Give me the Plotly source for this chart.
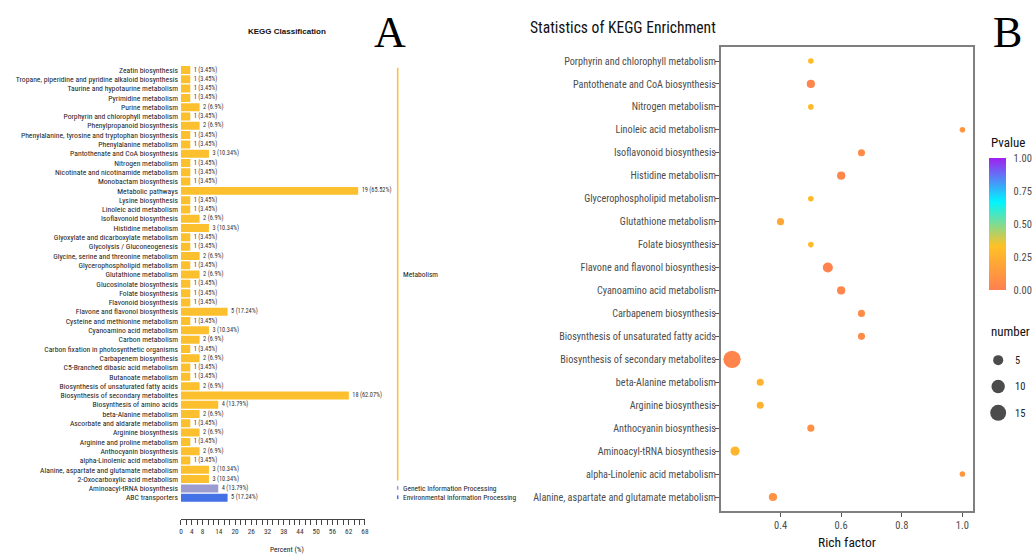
import math
import plotly.graph_objects as go

W, H = 1034, 554
NARROW = "Liberation Sans Narrow, Arial Narrow, Roboto Condensed, Liberation Sans, sans-serif"
SANS = "Liberation Sans, Arial, sans-serif"
SERIF = "Liberation Serif, Times New Roman, serif"

# ---------------- Panel A data (top to bottom) ----------------
kegg_terms = [
    "Zeatin biosynthesis",
    "Tropane, piperidine and pyridine alkaloid biosynthesis",
    "Taurine and hypotaurine metabolism",
    "Pyrimidine metabolism",
    "Purine metabolism",
    "Porphyrin and chlorophyll metabolism",
    "Phenylpropanoid biosynthesis",
    "Phenylalanine, tyrosine and tryptophan biosynthesis",
    "Phenylalanine metabolism",
    "Pantothenate and CoA biosynthesis",
    "Nitrogen metabolism",
    "Nicotinate and nicotinamide metabolism",
    "Monobactam biosynthesis",
    "Metabolic pathways",
    "Lysine biosynthesis",
    "Linoleic acid metabolism",
    "Isoflavonoid biosynthesis",
    "Histidine metabolism",
    "Glyoxylate and dicarboxylate metabolism",
    "Glycolysis / Gluconeogenesis",
    "Glycine, serine and threonine metabolism",
    "Glycerophospholipid metabolism",
    "Glutathione metabolism",
    "Glucosinolate biosynthesis",
    "Folate biosynthesis",
    "Flavonoid biosynthesis",
    "Flavone and flavonol biosynthesis",
    "Cysteine and methionine metabolism",
    "Cyanoamino acid metabolism",
    "Carbon metabolism",
    "Carbon fixation in photosynthetic organisms",
    "Carbapenem biosynthesis",
    "C5-Branched dibasic acid metabolism",
    "Butanoate metabolism",
    "Biosynthesis of unsaturated fatty acids",
    "Biosynthesis of secondary metabolites",
    "Biosynthesis of amino acids",
    "beta-Alanine metabolism",
    "Ascorbate and aldarate metabolism",
    "Arginine biosynthesis",
    "Arginine and proline metabolism",
    "Anthocyanin biosynthesis",
    "alpha-Linolenic acid metabolism",
    "Alanine, aspartate and glutamate metabolism",
    "2-Oxocarboxylic acid metabolism",
    "Aminoacyl-tRNA biosynthesis",
    "ABC transporters",
]
kegg_counts = [1, 1, 1, 1, 2, 1, 2, 1, 1, 3, 1, 1, 1, 19, 1, 1, 2, 3, 1, 1, 2, 1, 2, 1, 1, 1,
               5, 1, 3, 2, 1, 2, 1, 1, 2, 18, 4, 2, 1, 2, 1, 2, 1, 3, 3, 4, 5]
total_genes = 29
class_names = ["Metabolism", "Genetic Information Processing", "Environmental Information Processing"]
class_sizes = [45, 1, 1]
class_colors = ["#FCC02E", "#9C9BD0", "#4571E6"]
percent_labels = [0, 4, 8, 14, 20, 26, 32, 38, 44, 50, 56, 62, 68]

# ---------------- Panel B data (top to bottom) ----------------
enr_terms = [
    "Porphyrin and chlorophyll metabolism",
    "Pantothenate and CoA biosynthesis",
    "Nitrogen metabolism",
    "Linoleic acid metabolism",
    "Isoflavonoid biosynthesis",
    "Histidine metabolism",
    "Glycerophospholipid metabolism",
    "Glutathione metabolism",
    "Folate biosynthesis",
    "Flavone and flavonol biosynthesis",
    "Cyanoamino acid metabolism",
    "Carbapenem biosynthesis",
    "Biosynthesis of unsaturated fatty acids",
    "Biosynthesis of secondary metabolites",
    "beta-Alanine metabolism",
    "Arginine biosynthesis",
    "Anthocyanin biosynthesis",
    "Aminoacyl-tRNA biosynthesis",
    "alpha-Linolenic acid metabolism",
    "Alanine, aspartate and glutamate metabolism",
]
enr_rich = [0.5, 0.5, 0.5, 1.0, 0.667, 0.6, 0.5, 0.4, 0.5, 0.556, 0.6, 0.667, 0.667, 0.24,
            0.333, 0.333, 0.5, 0.25, 1.0, 0.375]
enr_pvalue = [0.30, 0.04, 0.30, 0.12, 0.06, 0.04, 0.30, 0.20, 0.30, 0.02, 0.04, 0.06, 0.06, 0.03,
              0.25, 0.25, 0.09, 0.28, 0.12, 0.10]
enr_number = [1, 3, 1, 1, 2, 3, 1, 2, 1, 5, 3, 2, 2, 18, 2, 2, 2, 4, 1, 3]
size_legend = [5, 10, 15]
pvalue_ticks = [0.0, 0.25, 0.5, 0.75, 1.0]
rich_ticks = [0.4, 0.6, 0.8, 1.0]

pv_scale = [[0.0, "#FF7F50"], [1 / 3, "#FFC125"], [2 / 3, "#00F5FF"], [1.0, "#A020F0"]]


def dot_size(n):
    return 2.0 + 3.6 * math.sqrt(n)


def px(x):
    return x / W


def py(y):
    return 1 - y / H


# ---- derived
kegg_pct = [c / total_genes * 100 for c in kegg_counts]
kegg_text = [f"{c} ({round(p, 2):g}%)" for c, p in zip(kegg_counts, kegg_pct)]
bar_colors = []
for col, n in zip(class_colors, class_sizes):
    bar_colors += [col] * n

fig = go.Figure()

fig.add_trace(go.Bar(
    x=kegg_pct, y=kegg_terms, orientation="h",
    marker=dict(color=bar_colors, line=dict(width=0)),
    width=0.86, xaxis="x", yaxis="y", showlegend=False, hoverinfo="skip",
))
fig.add_trace(go.Scatter(
    x=kegg_pct, y=kegg_terms, mode="markers+text", text=kegg_text,
    textposition="middle right",
    marker=dict(size=4, opacity=0),
    textfont=dict(size=6.3, color="#333333", family=NARROW),
    xaxis="x", yaxis="y", showlegend=False, cliponaxis=False, hoverinfo="skip",
))

fig.add_trace(go.Scatter(
    x=enr_rich, y=enr_terms, mode="markers",
    marker=dict(
        size=[dot_size(n) for n in enr_number],
        color=enr_pvalue, colorscale=pv_scale, cmin=0, cmax=1,
        line=dict(width=0), opacity=1,
        showscale=True,
        colorbar=dict(
            x=px(993), xanchor="left", y=py(224), yanchor="middle",
            lenmode="pixels", len=132, thickness=17,
            xpad=0, ypad=0, outlinewidth=0,
            tickvals=pvalue_ticks, ticktext=[f"{v:.2f}" for v in pvalue_ticks],
            ticks="outside", ticklen=6, tickcolor="white", tickwidth=1,
            tickfont=dict(size=10.5, color="#4d4d4d", family=NARROW),
        ),
    ),
    xaxis="x2", yaxis="y2", showlegend=False, cliponaxis=False, hoverinfo="skip",
))

fig.add_trace(go.Scatter(
    x=[0] * len(size_legend), y=[str(v) for v in size_legend], mode="markers",
    marker=dict(size=[dot_size(v) for v in size_legend], color="black", line=dict(width=0)),
    xaxis="x3", yaxis="y3", showlegend=False, hoverinfo="skip",
))

tickvals_a = list(range(0, 69, 2))
ticktext_a = [str(v) if v in percent_labels else "" for v in tickvals_a]

n_rows = len(kegg_terms)
fig.update_layout(
    width=W, height=H, margin=dict(l=0, r=0, t=0, b=0),
    paper_bgcolor="white", plot_bgcolor="white",
    bargap=0.1,
    xaxis=dict(
        domain=[px(180), px(365)], range=[0, 68], anchor="y",
        tickvals=tickvals_a, ticktext=ticktext_a,
        ticks="outside", ticklen=5, tickwidth=0.7, tickcolor="#444",
        showline=True, linecolor="#444", linewidth=0.7,
        showgrid=False, zeroline=False,
        tickfont=dict(size=7.3, color="#333", family=NARROW),
    ),
    yaxis=dict(
        domain=[py(519), py(65.35)], anchor="x", type="category",
        categoryarray=kegg_terms, range=[n_rows - 1 + 2.29, -0.5],
        showline=False, ticks="", showgrid=False, zeroline=False,
        tickfont=dict(size=7.7, color="#222", family=NARROW),
        ticklabelstandoff=2,
    ),
    xaxis2=dict(
        domain=[px(723), px(977)], range=[0.203, 1.036], anchor="y2",
        tickvals=rich_ticks, ticktext=[f"{v:.1f}" for v in rich_ticks],
        ticks="outside", ticklen=4, tickcolor="#555", tickwidth=1,
        showline=True, mirror=True, linecolor="#7f7f7f", linewidth=1.6,
        showgrid=False, zeroline=False,
        tickfont=dict(size=10.5, color="#4d4d4d", family=NARROW),
    ),
    yaxis2=dict(
        domain=[py(511), py(47)], anchor="x2", type="category",
        categoryarray=enr_terms, range=[len(enr_terms) - 1 + 0.61, -0.61],
        ticks="outside", ticklen=4, tickcolor="#555", tickwidth=1,
        showline=True, mirror=True, linecolor="#7f7f7f", linewidth=1.6,
        showgrid=False, zeroline=False,
        tickfont=dict(size=10.2, color="#4d4d4d", family=NARROW),
        ticklabelstandoff=-3,
    ),
    xaxis3=dict(domain=[px(986), px(1018)], range=[-1, 1], anchor="y3", visible=False),
    yaxis3=dict(
        domain=[py(426), py(347)], anchor="x3", type="category", side="right",
        categoryarray=[str(v) for v in size_legend], range=[2.5, -0.5],
        showline=False, ticks="", showgrid=False, zeroline=False,
        tickfont=dict(size=10.5, color="#222", family=NARROW),
    ),
)

# class bracket lines
shapes = []
annotations = []
start = 0
for name, n, col in zip(class_names, class_sizes, class_colors):
    end = start + n - 1
    shapes.append(dict(type="line", xref="paper", yref="y", x0=px(398), x1=px(398),
                       y0=start - 0.25, y1=end + 0.15, line=dict(color=col, width=1.5)))
    annotations.append(dict(text=name, xref="paper", yref="y", x=px(401), y=(start + end) / 2,
                            xanchor="left", yanchor="middle", showarrow=False,
                            font=dict(size=7.5, color="#222", family=NARROW)))
    start = end + 1


def note(text, x, y, size, family, color="#111", xanchor="center"):
    return dict(text=text, x=px(x), y=py(y), xref="paper", yref="paper",
                xanchor=xanchor, yanchor="middle", showarrow=False,
                font=dict(size=size, color=color, family=family))


annotations += [
    note("<b>KEGG Classification</b>", 287, 31, 8, SANS),
    note("Percent (%)", 287, 549, 7.5, NARROW, "#222"),
    note("A", 390, 33, 44, SERIF, "black"),
    note("B", 1011, 33, 44, SERIF, "black"),
    note("Statistics of KEGG Enrichment", 625, 28, 15.6, NARROW),
    note("Rich factor", 850, 542, 13.5, NARROW),
    note("Pvalue", 993, 142, 13, NARROW, xanchor="left"),
    note("number", 993, 331, 13, NARROW, xanchor="left"),
]
fig.update_layout(shapes=shapes, annotations=annotations)

fig.write_html("out.html")
